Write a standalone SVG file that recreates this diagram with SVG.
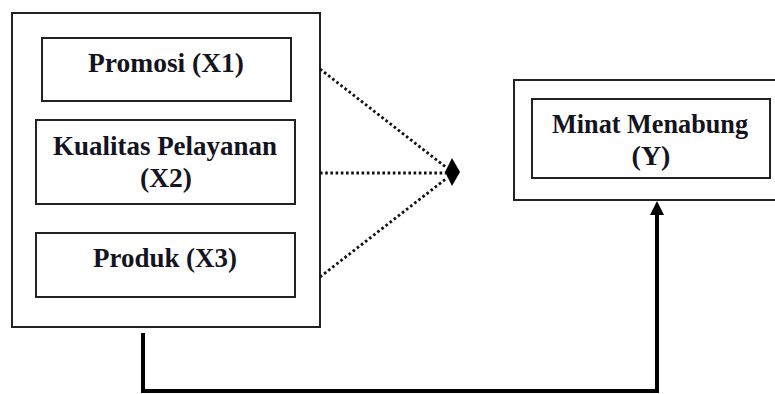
<svg xmlns="http://www.w3.org/2000/svg" width="775" height="394" viewBox="0 0 775 394">
<defs>
<style>
.box{fill:#fff;stroke:#222;stroke-width:2}
.lbl{font-family:"Liberation Serif","Times New Roman",serif;font-weight:bold;font-size:28px;fill:#141420;text-anchor:middle}
.dot{fill:none;stroke:#111;stroke-width:2.8;stroke-dasharray:2.6 2.6}
.solid{fill:none;stroke:#000;stroke-width:4}
</style>
</defs>
<rect width="775" height="394" fill="#fff"/>
<g id="group-x">
<rect class="box" x="12" y="13" width="308" height="314"/>
</g>
<g id="node-x1">
<rect class="box" x="42" y="38" width="249" height="63"/>
<text class="lbl" x="166" y="72" textLength="156" lengthAdjust="spacingAndGlyphs">Promosi (X1)</text>
</g>
<g id="node-x2">
<rect class="box" x="36" y="120" width="259" height="84"/>
<text class="lbl" x="165" y="155" textLength="224" lengthAdjust="spacingAndGlyphs">Kualitas Pelayanan</text>
<text class="lbl" x="166" y="187" textLength="52" lengthAdjust="spacingAndGlyphs">(X2)</text>
</g>
<g id="node-x3">
<rect class="box" x="36" y="233" width="259" height="64"/>
<text class="lbl" x="165" y="267" textLength="144" lengthAdjust="spacingAndGlyphs">Produk (X3)</text>
</g>
<g id="node-y">
<rect class="box" x="514" y="80" width="270" height="120"/>
<rect class="box" x="532" y="99" width="238" height="79"/>
<text class="lbl" x="650" y="133" textLength="196" lengthAdjust="spacingAndGlyphs">Minat Menabung</text>
<text class="lbl" x="651" y="165">(Y)</text>
</g>
<g id="connectors">
<path class="dot" d="M320,69 L447,168"/>
<path class="dot" d="M320,173 L446,173"/>
<path class="dot" d="M320,277 L447,178"/>
<polygon points="445,172 452,158 460,172 452,186" fill="#000"/>
<path class="solid" d="M143,333 V391 H657 V214"/>
<polygon points="657,201 650,215 664,215" fill="#000"/>
</g>
</svg>
